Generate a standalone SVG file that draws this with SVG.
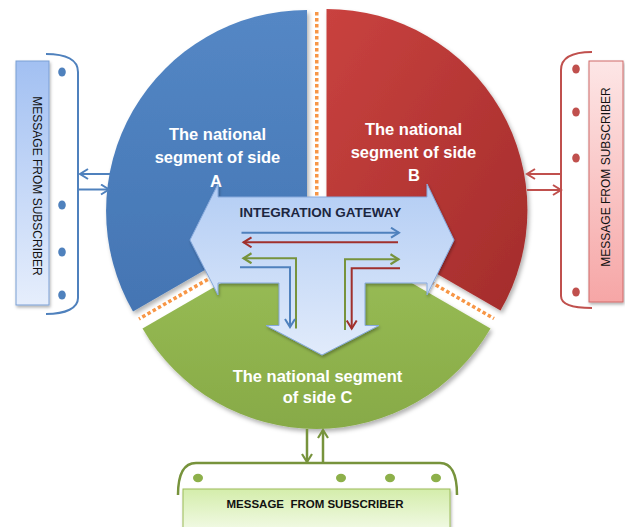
<svg xmlns="http://www.w3.org/2000/svg" width="625" height="527" viewBox="0 0 625 527">
<defs>
<style>
.sectxt{font-family:"Liberation Sans",Arial,sans-serif;font-weight:bold;font-size:16.5px;fill:#ffffff;text-anchor:middle}
.boxtxt{font-family:"Liberation Sans",Arial,sans-serif;font-size:12px;fill:#111111;text-anchor:middle}
.gwtxt{font-family:"Liberation Sans",Arial,sans-serif;font-weight:bold;font-size:13.5px;fill:#1c2640;text-anchor:middle}
.dots{fill:none;stroke:#f79646;stroke-width:3.5;stroke-dasharray:3.5 2.5}
.ab{fill:none;stroke:#4f81bd;stroke-width:2}
.ar{fill:none;stroke:#c0504d;stroke-width:2}
.ag{fill:none;stroke:#77933c;stroke-width:2.5}
.ir{fill:none;stroke:#a0302d;stroke-width:2}
</style>
<linearGradient id="gBlue" x1="0" y1="0" x2="0" y2="1"><stop offset="0" stop-color="#5487c5"/><stop offset="1" stop-color="#4475b3"/></linearGradient>
<linearGradient id="gRed" x1="0" y1="0" x2="1" y2="1"><stop offset="0" stop-color="#c9423f"/><stop offset="1" stop-color="#a32c2b"/></linearGradient>
<linearGradient id="gGreen" x1="0" y1="0" x2="0" y2="1"><stop offset="0" stop-color="#9cc058"/><stop offset="1" stop-color="#87aa47"/></linearGradient>
<linearGradient id="gGw" x1="0" y1="0" x2="0" y2="1"><stop offset="0" stop-color="#b3cdf4"/><stop offset="1" stop-color="#e1ebfb"/></linearGradient>
<linearGradient id="gBoxL" x1="0" y1="0" x2="0" y2="1"><stop offset="0" stop-color="#a2c0f2"/><stop offset="1" stop-color="#e6eefc"/></linearGradient>
<linearGradient id="gBoxR" x1="0" y1="0" x2="0" y2="1"><stop offset="0" stop-color="#fde6e6"/><stop offset="1" stop-color="#f6a6a6"/></linearGradient>
<linearGradient id="gBoxB" x1="0" y1="0" x2="0" y2="1"><stop offset="0" stop-color="#d4edab"/><stop offset="1" stop-color="#f2fae6"/></linearGradient>
<filter id="sh" x="-10%" y="-10%" width="130%" height="130%"><feDropShadow dx="2" dy="3" stdDeviation="2" flood-color="#000" flood-opacity="0.3"/></filter>
<filter id="sh2" x="-10%" y="-10%" width="130%" height="130%"><feDropShadow dx="1" dy="2" stdDeviation="1.5" flood-color="#000" flood-opacity="0.3"/></filter>
<marker id="mB" markerUnits="userSpaceOnUse" markerWidth="12" markerHeight="12" refX="9" refY="6" orient="auto"><path d="M1,1 L9,6 L1,11" fill="none" stroke="#4f81bd" stroke-width="2"/></marker>
<marker id="mR" markerUnits="userSpaceOnUse" markerWidth="12" markerHeight="12" refX="9" refY="6" orient="auto"><path d="M1,1 L9,6 L1,11" fill="none" stroke="#c0504d" stroke-width="2"/></marker>
<marker id="mIR" markerUnits="userSpaceOnUse" markerWidth="12" markerHeight="12" refX="9" refY="6" orient="auto"><path d="M1,1 L9,6 L1,11" fill="none" stroke="#a0302d" stroke-width="2"/></marker>
<marker id="mG" markerUnits="userSpaceOnUse" markerWidth="12" markerHeight="12" refX="9" refY="6" orient="auto"><path d="M1,1 L9,6 L1,11" fill="none" stroke="#77933c" stroke-width="2.2"/></marker>
</defs>
<rect width="625" height="527" fill="#ffffff"/>

<g id="sector-a" filter="url(#sh)">
<path d="M307 211 L307 10 A201 201 0 0 0 133 311.5 Z" fill="url(#gBlue)"/>
</g>
<g id="sector-b" filter="url(#sh)">
<path d="M326.5 210 L326.5 9 A201 201 0 0 1 500.5 310.5 Z" fill="url(#gRed)"/>
</g>
<g id="sector-c" filter="url(#sh)">
<path d="M316.5 228 L142.5 328.5 A201 201 0 0 0 490.5 328.5 Z" fill="url(#gGreen)"/>
</g>
<g id="separators">
<line class="dots" x1="316.75" y1="12" x2="316.75" y2="215"/>
<line class="dots" x1="311.75" y1="219.5" x2="139" y2="319"/>
<line class="dots" x1="321.5" y1="219" x2="494" y2="318.5"/>
</g>
<g id="labels-sectors">
<text class="sectxt" x="217.5" y="140">The national</text>
<text class="sectxt" x="217.5" y="163">segment of side</text>
<text class="sectxt" x="216" y="187">A</text>
<text class="sectxt" x="413.5" y="135">The national</text>
<text class="sectxt" x="413.5" y="158">segment of side</text>
<text class="sectxt" x="414" y="181">B</text>
<text class="sectxt" x="317.5" y="382">The national segment</text>
<text class="sectxt" x="317.5" y="403">of side C</text>
</g>

<g id="gateway">
<path d="M190 240 L218 184 L218 197 L427 197 L427 184 L454 240 L427 295 L427 283 L365 283 L365 325.5 L379 325.5 L322 355 L266 325.5 L279 325.5 L279 283 L218 283 L218 295 Z" fill="url(#gGw)" stroke="#86a9dc" stroke-width="1" filter="url(#sh2)"/>
<text class="gwtxt" x="320.5" y="216.5">INTEGRATION GATEWAY</text>
</g>

<g id="subscriber-a">
<rect x="16" y="61" width="33" height="244" fill="url(#gBoxL)" stroke="#7a9fd4" stroke-width="1" filter="url(#sh2)"/>
<text class="boxtxt" transform="translate(32.5,186) rotate(90)">MESSAGE FROM SUBSCRIBER</text>
<path class="ab" d="M46 54 C66 54 78 60 78 72 L78 298 C78 308 66 314 46 314"/>
<g fill="#4f81bd"><ellipse cx="62" cy="72" rx="3.8" ry="4.5"/><ellipse cx="62" cy="205" rx="3.8" ry="4.5"/><ellipse cx="62" cy="252" rx="3.8" ry="4.5"/><ellipse cx="62" cy="295" rx="3.8" ry="4.5"/></g>
</g>
<g id="subscriber-b">
<rect x="589" y="61" width="34" height="241" fill="url(#gBoxR)" stroke="#d06a68" stroke-width="1" filter="url(#sh2)"/>
<text class="boxtxt" transform="translate(609.5,177) rotate(-90)">MESSAGE FROM SUBSCRIBER</text>
<path class="ar" d="M592 52 C572 52 561 58 561 70 L561 296 C561 304 572 308 592 308"/>
<g fill="#c0504d"><ellipse cx="576" cy="69" rx="3.8" ry="4.5"/><ellipse cx="576" cy="112" rx="3.8" ry="4.5"/><ellipse cx="576" cy="158" rx="3.8" ry="4.5"/><ellipse cx="576" cy="292" rx="3.8" ry="4.5"/></g>
</g>
<g id="subscriber-c">
<rect x="183" y="489" width="267" height="42" fill="url(#gBoxB)" stroke="#9bbb59" stroke-width="1" filter="url(#sh2)"/>
<text class="boxtxt" x="315" y="508" style="font-weight:bold;font-size:11.5px" xml:space="preserve">MESSAGE  FROM SUBSCRIBER</text>
<path class="ag" d="M178 495 C178 474 184 463 196 463 L440 463 C451 463 457 474 457 495"/>
<g fill="#8db04a"><ellipse cx="198" cy="478" rx="5" ry="4.2"/><ellipse cx="341" cy="478" rx="5" ry="4.2"/><ellipse cx="390" cy="478" rx="5" ry="4.2"/><ellipse cx="436" cy="478" rx="5" ry="4.2"/></g>
</g>

<g id="connectors">
<path class="ab" d="M110 174 L80 174" marker-end="url(#mB)"/>
<path class="ab" d="M78 189.5 L109 189.5" marker-end="url(#mB)"/>
<path class="ar" d="M561 174 L527 174" marker-end="url(#mR)"/>
<path class="ar" d="M527 190 L561 190" marker-end="url(#mR)"/>
<path class="ag" d="M307 429 L307 462" marker-end="url(#mG)"/>
<path class="ag" d="M323 463 L323 430" marker-end="url(#mG)"/>
<path class="ab" d="M241.5 232.7 L399 232.7" marker-end="url(#mB)"/>
<path class="ir" d="M398 242.3 L243.5 242.3" marker-end="url(#mIR)"/>
<path class="ag" style="stroke-width:2" d="M296 328.5 L296 258.3 L243.5 258.3" marker-end="url(#mG)"/>
<path class="ab" d="M240 267.3 L290 267.3 L290 327" marker-end="url(#mB)"/>
<path class="ag" style="stroke-width:2" d="M345 330 L345 259.3 L398.5 259.3" marker-end="url(#mG)"/>
<path class="ir" d="M400 268.3 L351.7 268.3 L351.7 328.5" marker-end="url(#mIR)"/>
</g>
</svg>
